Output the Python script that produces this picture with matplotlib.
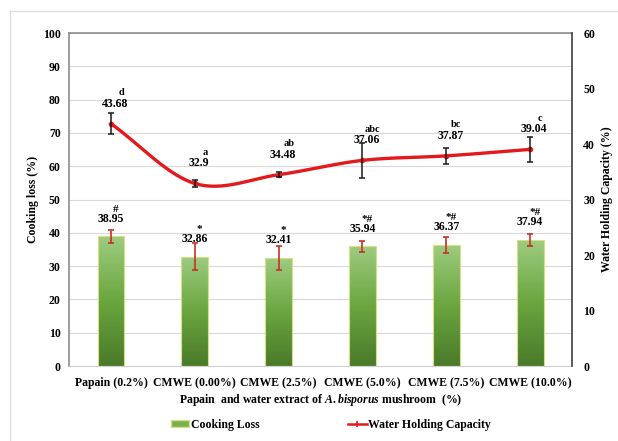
import numpy as np
import matplotlib.pyplot as plt
from matplotlib.lines import Line2D
from matplotlib.patches import Patch
from matplotlib.colors import LinearSegmentedColormap

plt.rcParams['font.family'] = 'Liberation Serif'
plt.rcParams['font.weight'] = 'bold'
plt.rcParams['axes.labelweight'] = 'bold'
plt.rcParams['mathtext.fontset'] = 'custom'
plt.rcParams['mathtext.it'] = 'Liberation Serif:italic:bold'
plt.rcParams['mathtext.rm'] = 'Liberation Serif:bold'

# data
groups = ['Papain (0.2%)', 'CMWE (0.00%)', 'CMWE (2.5%)', 'CMWE (5.0%)',
          'CMWE (7.5%)', 'CMWE (10.0%)']
cook_loss = [38.95, 32.86, 32.41, 35.94, 36.37, 37.94]
cook_err = [2.0, 4.0, 3.6, 1.7, 2.4, 1.8]
cook_marks = ['#', '*', '*', '*#', '*#', '*#']
whc = [43.68, 32.9, 34.48, 37.06, 37.87, 39.04]
whc_err = [1.9, 0.7, 0.4, 3.2, 1.5, 2.3]
whc_letters = ['d', 'a', 'ab', 'abc', 'bc', 'c']


def catmull(xs, ys, n=30):
    px = np.concatenate([[2*xs[0]-xs[1]], xs, [2*xs[-1]-xs[-2]]])
    py = np.concatenate([[2*ys[0]-ys[1]], ys, [2*ys[-1]-ys[-2]]])
    t = np.linspace(0, 1, n)
    ox, oy = [], []
    for i in range(1, len(px)-2):
        for p, o in ((px, ox), (py, oy)):
            p0, p1, p2, p3 = p[i-1], p[i], p[i+1], p[i+2]
            o.extend(0.5*((2*p1) + (-p0+p2)*t + (2*p0-5*p1+4*p2-p3)*t**2
                          + (-p0+3*p1-3*p2+p3)*t**3))
    return np.array(ox), np.array(oy)


fig = plt.figure(figsize=(6.18, 4.41), dpi=100)
ax = fig.add_axes([0.1117, 0.170, 0.8139, 0.755])
x = np.arange(len(groups))

# gradient bars
cmap = LinearSegmentedColormap.from_list('g', ['#4a7a2a', '#6aa63f', '#9ecc80'])
grad = np.linspace(0, 1, 256).reshape(-1, 1)
bw = 0.32
bars = ax.bar(x, cook_loss, width=bw, color='none', edgecolor='#d8de86',
              linewidth=0.8, zorder=3)
for b in bars:
    im = ax.imshow(grad, extent=[b.get_x(), b.get_x()+bw, 0, b.get_height()],
                   origin='lower', cmap=cmap, aspect='auto', zorder=2)
    im.set_clip_path(b)
ax.errorbar(x, cook_loss, yerr=cook_err, fmt='none', ecolor='#c8302a',
            elinewidth=1.2, capsize=2.5, capthick=1.2, zorder=4)
for xi, v, m in zip(x, cook_loss, cook_marks):
    ax.text(xi, v + 5.3, f'{v:g}', ha='center', va='center', fontsize=8.5, zorder=5)
    ax.text(xi + 0.06, v + 8.2, m, ha='center', va='center', fontsize=8, zorder=5)

ax.set_xlim(-0.5, 5.5)
ax.set_ylim(0, 100)
ax.set_yticks(range(0, 101, 10))
ax.set_xticks(x)
ax.set_xticklabels(groups, fontsize=8.5)
ax.tick_params(axis='both', length=0, labelsize=8.5)
ax.tick_params(axis='y', pad=6)
ax.tick_params(axis='x', pad=8)
ax.grid(axis='y', color='#d9d9d9', linewidth=0.8, zorder=0)
ax.set_axisbelow(True)
ax.set_ylabel('Cooking loss (%)', fontsize=8.5, labelpad=3)
ax.set_xlabel(r'Papain  and water extract of $\mathit{A.bisporus}$ mushroom  (%)',
              fontsize=8.5, labelpad=2)
for s in ['left', 'top']:
    ax.spines[s].set_color('#8c8c8c')
    ax.spines[s].set_linewidth(1.2)
ax.spines['bottom'].set_color('#d0d0d0')
ax.spines['right'].set_visible(False)

# water holding capacity on right axis
ax2 = ax.twinx()
ax2.set_ylim(0, 60)
ax2.set_yticks(range(0, 61, 10))
ax2.tick_params(axis='y', length=0, labelsize=8.5, pad=8)
for s in ['left', 'top', 'bottom']:
    ax2.spines[s].set_visible(False)
ax2.spines['right'].set_color('#404040')
ax2.spines['right'].set_linewidth(1.2)
ax2.set_ylabel('Water Holding Capacity (%)', fontsize=8.5, labelpad=4)

sx, sy = catmull(x.astype(float), np.array(whc))
ax2.plot(sx, sy, color='#e3191c', linewidth=2.4, zorder=3)
ax2.plot(x, whc, 'o', color='#e3191c', markersize=3, zorder=4)
ax2.errorbar(x, whc, yerr=whc_err, fmt='none', ecolor='#1a1a1a',
             elinewidth=1.1, capsize=2.5, capthick=1.1, zorder=5)
for xi, v, lt in zip(x, whc, whc_letters):
    ax2.text(xi + 0.05, v + 3.6, f'{v:g}', ha='center', va='center', fontsize=8.5)
    ax2.text(xi + 0.12, v + 5.6, lt, ha='center', va='center', fontsize=7.5)

handles = [Patch(facecolor='#7ab04e', edgecolor='#d8de86'),
           Line2D([], [], color='#e3191c', linewidth=1.8, marker='|',
                  markersize=5, markeredgewidth=1.2)]
fig.legend(handles, ['Cooking Loss', 'Water Holding Capacity'], loc='center',
           bbox_to_anchor=(0.535, 0.037), ncol=2, frameon=False, fontsize=8.5,
           handlelength=1.6, handleheight=0.5, handletextpad=0.1,
           columnspacing=7.5)

# outer frame
fig.add_artist(Line2D([10/618, 10/618], [0, 1 - 11/441], color='#dedede',
                      linewidth=1, transform=fig.transFigure))
fig.add_artist(Line2D([10/618, 1], [1 - 11/441, 1 - 11/441], color='#dedede',
                      linewidth=1, transform=fig.transFigure))

fig.savefig('out.png', dpi=100)
